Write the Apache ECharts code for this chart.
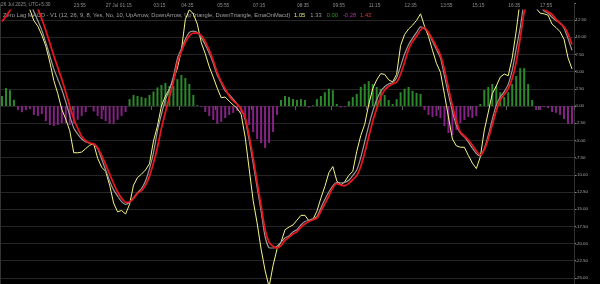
<!DOCTYPE html>
<html><head><meta charset="utf-8">
<script src="https://cdn.jsdelivr.net/npm/echarts@6/dist/echarts.min.js"></script>
<style>html,body{margin:0;padding:0;background:#000;overflow:hidden;width:600px;height:284px;}#c{width:600px;height:296px;}</style>
</head><body><div id="c"></div>
<script>
// ---- data ----
const macd = [16.5,16.9,17.1,17.0,16.7,16.0,15.1,14.0,12.4,11.6,
10.3,8.7,6.4,3.7,1.8,-0.5,-1.9,-3.6,-6.8,-6.8,
-6.7,-6.2,-5.7,-5.5,-7.6,-8.9,-9.5,-11.5,-14.1,-15.4,
-15.2,-15.7,-14.3,-11.5,-10.4,-9.9,-9.3,-8.4,-5.1,-2.9,
0.0,1.45,2.5,3.8,5.5,8.1,12.6,14.0,13.4,11.9,
9.2,7.6,5.7,4.2,2.6,1.2,1.3,0.7,0.15,-0.33,
-1.2,-4.5,-9.1,-13.7,-17.0,-20.8,-23.9,-26.3,-23.2,-20.8,
-19.8,-18.0,-17.6,-17.3,-16.6,-15.9,-15.9,-16.7,-16.5,-15.3,
-13.4,-11.7,-9.7,-8.8,-10.9,-11.5,-11.0,-10.1,-9.5,-6.6,
-4.3,-2.65,0.2,2.5,3.8,4.7,4.6,3.8,3.5,4.6,
8.8,10.4,11.2,11.75,12.45,13.4,11.6,10.1,8.1,6.2,
4.9,1.7,-1.6,-4.8,-5.8,-6.0,-6.0,-7.2,-8.3,-9.1,
-7.4,-3.5,-0.9,1.8,2.9,4.2,4.65,4.4,7.0,10.9,
15.4,17.0,18.0,17.5,14.2,13.5,13.4,13.2,11.9,11.4,
10.8,9.7,7.0,5.4];
const signal = [16.2,16.6,16.9,17.0,16.9,16.5,15.9,15.1,13.7,12.4,
11.0,9.2,7.3,5.4,3.9,2.4,0.6,-1.4,-3.2,-4.1,
-4.8,-5.2,-5.4,-5.6,-6.2,-7.7,-9.3,-10.9,-12.2,-13.1,
-13.9,-14.3,-14.0,-13.3,-12.6,-12.0,-10.9,-9.1,-6.8,-3.6,
-1.2,0.9,2.4,4.3,6.9,8.3,9.7,10.7,10.9,10.7,
9.95,8.9,7.65,6.2,4.5,3.35,2.2,1.64,1.0,0.29,
-0.48,-2.0,-4.9,-8.3,-11.8,-15.3,-19.0,-20.6,-20.65,-20.4,
-19.8,-19.2,-18.9,-18.3,-18.0,-17.3,-16.8,-16.6,-16.4,-16.1,
-14.85,-13.6,-12.5,-11.6,-11.1,-11.2,-11.1,-10.8,-10.1,-9.3,
-7.5,-5.2,-2.86,-0.8,0.92,2.1,2.8,3.2,3.4,4.1,
5.8,7.56,8.9,9.86,10.7,11.5,11.27,10.57,9.4,8.2,
7.0,4.35,1.7,-0.8,-2.8,-3.95,-4.5,-5.26,-6.14,-6.92,
-7.27,-6.17,-4.28,-1.95,0.12,1.3,2.1,3.14,5.2,8.3,
11.35,15.1,16.5,16.8,16.6,14.8,13.8,13.5,12.9,12.4,
12.1,11.3,9.8,8.1];
const emaOnMacd = [12.3,13.0,13.9,14.6,15.2,15.5,15.6,15.4,15.0,14.1,
12.65,10.95,9.15,7.3,5.6,3.9,2.0,0.0,-1.86,-3.26,
-4.4,-5.05,-5.38,-5.5,-6.06,-7.23,-8.5,-9.9,-11.27,-12.5,
-13.4,-14.0,-13.96,-13.45,-12.7,-12.3,-11.5,-10.2,-8.3,-6.0,
-3.26,-0.87,1.3,3.5,6.3,7.9,9.25,10.2,10.6,10.6,
10.25,9.36,8.08,6.6,4.85,3.5,2.5,1.45,0.73,0.25,
-0.47,-1.66,-4.3,-7.56,-11.05,-14.5,-18.0,-19.8,-20.4,-20.65,
-20.3,-19.55,-19.1,-18.6,-18.3,-17.6,-17.15,-16.8,-16.55,-16.3,
-15.3,-14.2,-13.1,-11.9,-11.3,-11.5,-11.6,-11.25,-10.7,-10.1,
-8.8,-6.8,-4.5,-2.24,-0.38,1.28,2.33,2.88,3.2,3.45,
4.62,6.35,8.23,9.36,10.16,11.05,11.4,10.7,9.7,8.6,
7.4,5.26,2.63,0.03,-2.2,-3.82,-4.36,-4.94,-5.7,-6.54,
-7.12,-6.33,-4.75,-2.73,-0.68,0.87,1.67,2.54,4.0,6.37,
9.86,13.6,15.0,15.8,16.0,14.7,14.05,13.67,13.3,12.6,
12.0,11.5,10.5,8.95];
const hist = [1.45,2.6,2.3,0.9,-0.6,-0.9,-0.6,-0.45,-1.3,-1.45,
-1.15,-2.2,-2.75,-2.9,-2.75,-2.5,-2.5,-2.75,-2.6,-2.0,
-1.45,-0.9,-0.15,-0.8,-1.45,-1.9,-2.2,-2.6,-2.6,-2.0,
-1.45,-0.9,1.0,1.6,1.45,1.3,1.16,1.6,2.1,2.7,
3.05,3.35,2.9,2.9,3.9,4.5,4.07,3.2,1.6,0.1,
-0.15,-0.87,-1.45,-2.04,-2.6,-2.3,-1.75,-1.3,-1.0,-0.73,
-1.0,-1.75,-2.76,-3.78,-4.8,-5.38,-6.1,-5.38,-3.78,-1.3,
0.87,1.45,1.3,1.0,0.87,1.0,0.87,-0.2,0.1,1.0,
1.45,2.0,2.5,2.3,0.3,-0.2,-0.1,0.7,1.3,1.75,
2.76,3.2,3.6,3.2,2.76,2.5,1.6,0.87,0.3,1.0,
2.0,2.5,2.76,2.2,1.9,1.75,-0.58,-1.3,-1.6,-1.45,
-1.75,-2.9,-3.93,-4.2,-3.5,-2.5,-2.04,-1.6,-1.75,-1.45,
0.3,2.33,2.76,3.2,2.9,2.0,1.3,2.0,3.2,4.36,
5.5,5.5,3.2,0.87,-0.58,-0.58,-0.15,-0.3,-0.87,-1.0,
-1.3,-1.9,-2.6,-2.6];
const tickIndex = [18,26,38,45,54,63,74,83,92,101,110,118,127,135];
const tickText = ['23:55','27 Jul 01:15','03:15','04:35','05:55','07:15','08:35','09:55','11:15','12:35','13:55','15:15','16:35','17:55'];
const dayBreakIndex = 18;
const headerText = '26 Jul 2025, UTC+5:30';
const titleText = 'Zero Lag MACD - V1 (12, 26, 9, 8, Yes, No, 10, UpArrow, DownArrow, UpTriangle, DownTriangle, EmaOnMacd)';
const legendValues = ['1.05','1.33','0.00','-0.28','1.42'];
const categories = macd.map((_, i) => i);

const FONT = '"Liberation Sans", Arial, sans-serif';
const chart = echarts.init(document.getElementById('c'), null, {renderer:'canvas'});
chart.setOption({
  backgroundColor: '#000',
  animation: false,
  grid: {left: 0, right: 26, top: 2.84, bottom: 0.88, containLabel: false},
  xAxis: {
    type: 'category', data: categories, boundaryGap: true, position: 'top', z: 10,
    axisLine: {show: false},
    axisTick: {show: true, inside: true, length: 4, interval: (i) => tickIndex.includes(i), lineStyle: {color: '#5a5a5a'}},
    axisLabel: {show: true, inside: true, margin: 0.5, interval: (i) => tickIndex.includes(i),
      formatter: (v, i) => tickText[tickIndex.indexOf(i)] || '', align: 'left',
      color: '#8e8e8e', fontSize: 4.8, fontFamily: FONT},
    splitLine: {show: true, interval: (i) => i === dayBreakIndex, lineStyle: {color: '#333333', width: 1}}
  },
  yAxis: {
    type: 'value', position: 'right', min: -27.5, max: 15, interval: 2.5,
    axisLine: {show: true, lineStyle: {color: '#c8c8c8', width: 1}},
    axisTick: {show: true, length: 2, lineStyle: {color: '#888'}},
    axisLabel: {margin: 1.5, color: '#a8a8a8', fontSize: 4.4, fontFamily: FONT,
      formatter: (v) => (v > 13 || v < -26) ? '' : v.toFixed(2)},
    splitLine: {show: true, lineStyle: {color: '#262626', width: 1}}
  },
  graphic: [
    {type: 'rect', shape: {x: 0, y: 0, width: 575, height: 9.5}, style: {fill: '#000'}, z: 5, silent: true},
    {type: 'text', x: 1, y: 5, z: 20, style: {text: headerText, fill: '#8e8e8e', font: '4.8px ' + FONT, verticalAlign: 'middle'}},
    {type: 'text', x: 3, y: 15.5, z: 1, style: {
      text: '{t|' + titleText + '}{y|' + legendValues[0] + '}{g|' + legendValues[1] + '}{gr|' + legendValues[2] + '}{p|' + legendValues[3] + '}{r|' + legendValues[4] + '}',
      verticalAlign: 'middle', font: '5.8px ' + FONT,
      rich: {
        t: {fill: '#a0a0a0', fontSize: 5.8, fontFamily: FONT},
        y: {fill: '#e8e870', fontSize: 5.8, fontFamily: FONT, padding: [0, 0, 0, 4]},
        g: {fill: '#9a9a9a', fontSize: 5.8, fontFamily: FONT, padding: [0, 0, 0, 5]},
        gr: {fill: '#2f942f', fontSize: 5.8, fontFamily: FONT, padding: [0, 0, 0, 5]},
        p: {fill: '#a33aa3', fontSize: 5.8, fontFamily: FONT, padding: [0, 0, 0, 5]},
        r: {fill: '#e23232', fontSize: 5.8, fontFamily: FONT, padding: [0, 0, 0, 4]}
      }
    }}
  ],
  series: [
    {type: 'bar', data: hist, barWidth: 2, z: 2,
     itemStyle: {color: (p) => p.value >= 0 ? '#2b882b' : '#862286'}},
    {type: 'line', data: macd, symbol: 'none', z: 3, lineStyle: {color: '#f5f58a', width: 1}},
    {type: 'line', data: signal, symbol: 'none', z: 3, smooth: 0.2, lineStyle: {color: '#9a9a9a', width: 1.2}},
    {type: 'line', data: emaOnMacd, symbol: 'none', z: 4, smooth: 0.2, lineStyle: {color: '#e3171d', width: 1.8}}
  ]
});
</script></body></html>
